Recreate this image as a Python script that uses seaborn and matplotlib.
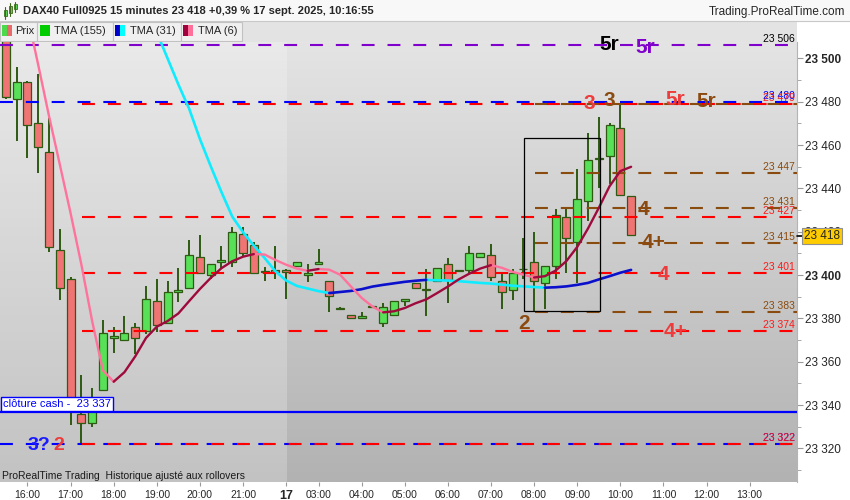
import numpy as np
import pandas as pd
import matplotlib
matplotlib.use("Agg")
import matplotlib.pyplot as plt
import matplotlib.transforms as mtransforms
from matplotlib.patches import Rectangle
import seaborn as sns

# DAX40 15-minute candles, index 0 = 15:30 on the 16th
opens = [23512, 23481.4, 23489.3, 23470.4, 23457.0, 23411.8, 23398.2, 23335.9, 23331.7, 23347.0,
         23371.0, 23370.0, 23375.9, 23374.1, 23387.9, 23377.9, 23392.0, 23394.0, 23408.2, 23400.0,
         23405.9, 23405.9, 23419.2, 23414.1, 23401.5, 23402.3, 23402.3, 23404.0, 23400.0, 23404.9,
         23397.1, 23384.6, 23381.7, 23380.0, 23385.6, 23377.7, 23381.7, 23387.9, 23396.2, 23393.0,
         23397.1, 23404.9, 23402.1, 23402.2, 23408.2, 23409.1, 23397.1, 23393.0, 23403.0, 23405.9,
         23396.3, 23404.0, 23427.0, 23415.1, 23434.0, 23454.2, 23455.2, 23468.1, 23436.3]
highs = [23514, 23496.2, 23489.6, 23492.6, 23472.4, 23421.2, 23399.1, 23353.9, 23347.8, 23379.3,
         23375.9, 23381.1, 23377.7, 23394.9, 23398.2, 23397.1, 23403.2, 23416.1, 23418.3, 23404.9,
         23413.4, 23422.3, 23422.0, 23415.2, 23403.8, 23413.4, 23402.8, 23405.9, 23405.1, 23412.0,
         23397.1, 23385.1, 23381.7, 23382.8, 23385.6, 23387.0, 23387.9, 23388.8, 23396.2, 23402.8,
         23403.1, 23407.7, 23402.5, 23413.4, 23410.0, 23414.3, 23401.2, 23402.8, 23416.9, 23420.1,
         23404.0, 23430.4, 23431.2, 23449.2, 23465.4, 23473.1, 23470.0, 23479.3, 23436.3]
lows = [23481.4, 23461.9, 23454.2, 23447.3, 23410.7, 23388.6, 23330.6, 23322.4, 23329.8, 23346.5,
        23363.9, 23370.0, 23363.6, 23372.8, 23373.9, 23377.9, 23387.7, 23394.0, 23401.2, 23398.2,
        23402.8, 23403.8, 23408.2, 23401.2, 23397.1, 23398.2, 23388.9, 23404.0, 23396.9, 23404.9,
        23382.8, 23384.3, 23380.0, 23380.0, 23385.3, 23375.9, 23381.7, 23385.9, 23393.9, 23381.0,
        23397.1, 23387.0, 23402.1, 23400.5, 23408.2, 23397.1, 23384.3, 23388.6, 23398.2, 23383.3,
        23384.3, 23398.2, 23401.2, 23396.3, 23425.0, 23440.0, 23441.9, 23436.3, 23418.3]
closes = [23482.3, 23489.3, 23469.4, 23459.3, 23413.2, 23393.9, 23341.0, 23331.7, 23341.3, 23373.1,
          23372.0, 23373.1, 23371.0, 23388.8, 23377.0, 23392.0, 23392.9, 23409.1, 23401.2, 23404.9,
          23407.2, 23420.1, 23410.0, 23401.2, 23401.8, 23401.4, 23401.4, 23405.9, 23401.2, 23405.9,
          23390.2, 23384.3, 23380.0, 23381.0, 23385.3, 23385.1, 23387.9, 23388.8, 23393.9, 23393.4,
          23403.1, 23397.8, 23402.5, 23410.0, 23410.0, 23399.1, 23392.0, 23401.0, 23402.6, 23397.1,
          23404.0, 23427.8, 23416.9, 23435.3, 23453.3, 23453.4, 23469.4, 23437.0, 23418.3]

nan = np.nan
tma6 = [nan, nan, 23520, 23497, 23473.4, 23451.1, 23428.6, 23404.9, 23378.8, 23356,
        23350.8, 23355.2, 23362.5, 23371, 23376.2, 23378.8, 23382.3, 23388, 23393.6, 23398.7,
        23403.2, 23406.4, 23408.5, 23409.7, 23409.5, 23407, 23404.8, 23403, 23402.0, 23402.8,
        23402.5, 23400.2, 23394.8, 23389.5, 23385.5, 23382.8, 23383.3, 23384.8, 23387.0, 23388.8,
        23391.7, 23394.7, 23398.0, 23400.7, 23403, 23404.6, 23403.4, 23401.5, 23400.2, 23398.9,
        23399.5, 23402.1, 23406.5, 23413, 23421.5, 23431, 23441, 23448, 23450]
tma31 = [nan] * 14 + [23512, 23500, 23488, 23476.8, 23462.8, 23450.3,
                      23438.3, 23427, 23419.8, 23413.6, 23407.9, 23401.8, 23397.5, 23395, 23393.8, 23392.6,
                      23391.7, 23392.2, 23392.7, 23393.5, 23394.7, 23395.5, 23396.2, 23396.9, 23397.4, 23397.8,
                      23397.6, 23397.5, 23397.2, 23396.8, 23396.4, 23396.1, 23395.6, 23395.1, 23394.8, 23394.5,
                      23394.2, 23394.4, 23394.8, 23395.5, 23396.4, 23398, 23399.5, 23401.1, 23402.4]

hour_ticks = [2, 6, 10, 14, 18, 22, 26, 29, 33, 37, 41, 45, 49, 53, 57, 61, 65, 69]
hour_labels = ["16:00", "17:00", "18:00", "19:00", "20:00", "21:00", "17", "03:00", "04:00",
               "05:00", "06:00", "07:00", "08:00", "09:00", "10:00", "11:00", "12:00", "13:00"]

purple_levels = [23506]
blue_levels = [23480, 23322]
red_levels = [23479, 23427, 23401, 23374, 23322]
brown_levels = [23479, 23447, 23431, 23415, 23383]
cash_close = 23337
last_price = 23418

# wave labels: text, candle index, price (baseline), colour key
wave_labels = [("5r", 56.0, 23503.8, "black"), ("5r", 59.3, 23502.7, "purple"),
               ("3", 54.1, 23476.9, "red"), ("3", 56.0, 23478.0, "brown"),
               ("5r", 62.1, 23478.4, "red"), ("5r", 65.0, 23477.5, "brown"),
               ("4", 59.1, 23427.6, "brown"), ("4+", 60.1, 23412.4, "brown"),
               ("4", 61.0, 23397.6, "red"), ("4+", 62.1, 23371.3, "red"),
               ("2", 48.06, 23375.0, "brown"), ("3?", 3.1, 23319.1, "blue"), ("2", 4.93, 23319.1, "red")]

sns.set_style("white")
plt.rcParams["font.family"] = ["Liberation Sans", "DejaVu Sans"]

RED = "#ff0000"
BROWN = "#8a4b0f"
PURPLE = "#8000cc"
BLUE = "#0000ff"
text_cols = {"black": "black", "purple": PURPLE, "red": "#ee3b3b", "brown": "#8b4a10", "blue": "#1a1aff"}

XMIN, XMAX = -0.547, 73.39
YMIN, YMAX = 23304.5, 23507.6

fig = plt.figure(figsize=(8.5, 5), dpi=100)

# header / frame drawn in pixel coordinates
hdr = fig.add_axes([0, 0, 1, 1], zorder=-5)
hdr.set_xlim(0, 850)
hdr.set_ylim(500, 0)
hdr.axis("off")
hdr.add_patch(Rectangle((0, 0), 850, 500, facecolor="white", edgecolor="none"))
hdr.add_patch(Rectangle((0, 0), 850, 21, facecolor="#f8f8f8", edgecolor="none"))
hdr.plot([0, 850], [21, 21], color="#c8c8c8", lw=0.8)
hdr.add_patch(Rectangle((0, 21.5), 797, 21, facecolor="#e3e3e3", edgecolor="none"))
for cx, b0, b1, w0, w1 in [(5.5, 10, 16, 7, 19), (10.5, 6, 13, 3, 16), (15.5, 4, 9, 2, 12)]:
    hdr.plot([cx, cx], [w0, w1], color="#3d6b1a", lw=0.8)
    hdr.add_patch(Rectangle((cx - 1.8, b0), 3.6, b1 - b0, facecolor="#5cd65c", edgecolor="#3d6b1a", lw=0.6))
hdr.text(23, 11.5, "DAX40 Full0925 15 minutes 23 418 +0,39 % 17 sept. 2025, 10:16:55",
         fontsize=8, fontweight="bold", va="center", ha="left")
hdr.text(845, 12, "Trading.ProRealTime.com", fontsize=8.5, va="center", ha="right")

buttons = [("Prix", 0, 37.3, ["#4cd94c", "#e86a6a"], 15),
           ("TMA (155)", 37.3, 112.7, ["#00cc00"], 54),
           ("TMA (31)", 112.7, 180.7, ["#0000cc", "#00ffff"], 130),
           ("TMA (6)", 180.7, 241.7, ["#a0003c", "#ff6f9a"], 198)]
for name, b0, b1, sw, tx in buttons:
    hdr.add_patch(Rectangle((b0, 22), b1 - b0, 19, facecolor="#f0f0f0", edgecolor="#c2c2c2", lw=0.8))
    w = 10 / len(sw)
    for k, c in enumerate(sw):
        hdr.add_patch(Rectangle((b0 + 2.5 + k * w, 25), w, 11, facecolor=c, edgecolor="none"))
    hdr.text(tx, 31.5, name, fontsize=8, va="center", ha="left")

# main chart
ax = fig.add_axes([0, 18 / 500, 797 / 850, 440 / 500])
top_c = np.array([228, 228, 228]) / 255
bot_c = np.array([178, 178, 178]) / 255
t = np.linspace(0, 1, 256)[:, None, None]
grad = top_c * (1 - t) + bot_c * t
grad = np.repeat(grad, 2, axis=1)
ax.imshow(grad, extent=[XMIN, XMAX, YMIN, YMAX], aspect="auto", origin="upper", zorder=0)
ax.axvspan(XMIN, 26.05, color="white", alpha=0.22, lw=0, zorder=0.5)

# candles
idx = np.arange(len(opens))
o = np.array(opens); h = np.array(highs); l = np.array(lows); c = np.array(closes)
up = c >= o
ax.vlines(idx, l, h, color="#2e5a12", lw=1.4, zorder=2)
body_lo = np.minimum(o, c)
body_h = np.maximum(np.abs(c - o), 0.35)
ax.bar(idx[up], body_h[up], bottom=body_lo[up], width=0.74, color="#58e058",
       edgecolor="#2e5a12", lw=0.9, zorder=3)
ax.bar(idx[~up], body_h[~up], bottom=body_lo[~up], width=0.74, color="#f07474",
       edgecolor="#2e5a12", lw=0.9, zorder=3)

# levels
DASH = (6.2, 6.2)
for p in purple_levels:
    ax.plot([XMIN, XMAX], [p, p], color=PURPLE, lw=1.5, dashes=DASH, zorder=4)
for p in blue_levels:
    ax.plot([XMIN, XMAX], [p, p], color=BLUE, lw=1.5, dashes=DASH, zorder=4)
for p in red_levels:
    ax.plot([7.06, XMAX], [p, p], color=RED, lw=1.5, dashes=DASH, zorder=4.2)
for p in brown_levels:
    ax.plot([49.08, XMAX], [p, p], color=BROWN, lw=1.5, dashes=DASH, zorder=4.1)
ax.axhline(cash_close, color=BLUE, lw=1.6, zorder=4)


def fmt(v):
    return f"{v:,}".replace(",", " ")


lbl_tr = mtransforms.blended_transform_factory(ax.transAxes, ax.transData)
right_labels = ([(p, "black") for p in purple_levels] + [(p, BLUE) for p in blue_levels]
                + [(p, "#ff1a1a") for p in red_levels] + [(p, BROWN) for p in brown_levels[1:]])
for p, col in right_labels:
    ax.annotate(fmt(p), xy=(0.997, p), xycoords=lbl_tr, xytext=(0, 2.2), textcoords="offset points",
                ha="right", va="baseline", fontsize=7.5, color=col, zorder=7, annotation_clip=False)

# TMA lines
def tma_runs(vals):
    rows = []
    run = 0
    prev = None
    for i in range(len(vals) - 1):
        a, b = vals[i], vals[i + 1]
        if np.isnan(a) or np.isnan(b):
            prev = None
            continue
        d = "up" if b > a else "down"
        if d != prev:
            run += 1
            rows.append((run, i, a, d))
        rows.append((run, i + 1, b, d))
        prev = d
    return pd.DataFrame(rows, columns=["run", "idx", "val", "dir"])


sns.lineplot(data=tma_runs(tma31), x="idx", y="val", hue="dir", units="run", estimator=None,
             palette={"up": "#0a10cc", "down": "#10ecff"}, legend=False, lw=1.9, sort=False,
             solid_capstyle="round", ax=ax, zorder=5)
sns.lineplot(data=tma_runs(tma6), x="idx", y="val", hue="dir", units="run", estimator=None,
             palette={"up": "#9e0a3c", "down": "#ff729c"}, legend=False, lw=1.7, sort=False,
             solid_capstyle="round", ax=ax, zorder=5.1)

# box around the last move
ax.add_patch(Rectangle((48.09, 23383.3), 55.14 - 48.09, 23463.5 - 23383.3, fill=False,
                       edgecolor="black", lw=0.9, zorder=5.5))

for txt, xi, yp, key in wave_labels:
    size = 14 if key == "blue" or (txt == "2" and xi < 10) else 15
    ax.text(xi, yp, txt, ha="center", va="baseline", fontsize=size, fontweight="bold",
            color=text_cols[key], zorder=8, clip_on=False)

ax.text(0.004, cash_close + 3.6, "clôture cash -  " + fmt(cash_close), transform=lbl_tr,
        ha="left", va="center", fontsize=8, color=BLUE, zorder=8,
        bbox=dict(boxstyle="square,pad=0.2", fc="white", ec=BLUE, lw=1))

ax.text(0.003, 0.0136, "ProRealTime Trading  Historique ajusté aux rollovers", transform=ax.transAxes,
        ha="left", va="center", fontsize=7.5, color="#1a1a1a", zorder=8)

# current price marker
ax.plot([1.0, 1.008], [last_price, last_price], transform=lbl_tr, color="black", lw=1.2,
        clip_on=False, zorder=9)
ax.annotate(fmt(last_price), xy=(1.0, last_price), xycoords=lbl_tr, xytext=(5.2, 0),
            textcoords="offset points", ha="left", va="center", fontsize=8.5, zorder=10,
            bbox=dict(boxstyle="square,pad=0.15", fc="#ffcc00", ec="#909090", lw=0.8),
            annotation_clip=False)

ax.set_xlim(XMIN, XMAX)
ax.set_ylim(YMIN, YMAX)
ax.set_xlabel("")
ax.set_ylabel("")
for s in ["top", "left", "bottom"]:
    ax.spines[s].set_visible(False)
ax.spines["right"].set_color("#b4b4b4")
ax.spines["right"].set_linewidth(0.8)

ax.yaxis.tick_right()
yt = list(range(23320, 23501, 20))
ax.set_yticks(yt)
ax.set_yticklabels([fmt(v) for v in yt])
ax.set_yticks(list(range(23310, 23501, 20)), minor=True)
ax.tick_params(axis="y", which="major", length=4, color="#9a9a9a", labelsize=8.5, pad=2,
               right=True, left=False)
ax.tick_params(axis="y", which="minor", length=3, color="#9a9a9a", right=True, left=False)
for lab in ax.get_yticklabels():
    if lab.get_text() in ("23 400", "23 500"):
        lab.set_fontweight("bold")

ax.set_xticks(hour_ticks)
ax.set_xticklabels(hour_labels)
ax.tick_params(axis="x", length=3, color="#9a9a9a", labelsize=7.5, pad=2.5, bottom=True)
for lab in ax.get_xticklabels():
    if lab.get_text() == "17":
        lab.set_fontweight("bold")
        lab.set_fontsize(9)

fig.savefig("out.png", dpi=100)
